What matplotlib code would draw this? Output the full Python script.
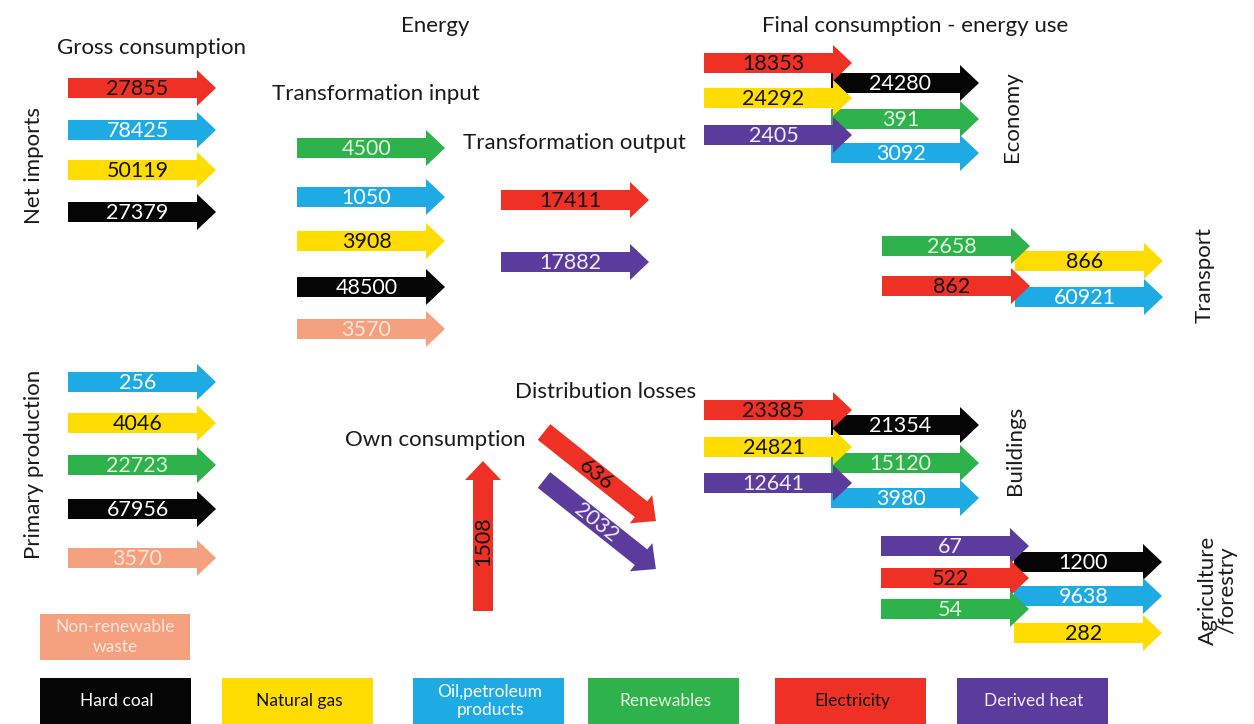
import numpy as np
import matplotlib
matplotlib.use("Agg")
import matplotlib.pyplot as plt
from matplotlib.patches import Polygon, Rectangle

plt.rcParams['font.family'] = ['Lato', 'DejaVu Sans']

# fuel colours (fill, text)
COLORS = {
    "Hard coal": ("#050505", "white"),
    "Natural gas": ("#ffdd00", "#111111"),
    "Oil,petroleum products": ("#1eabe3", "white"),
    "Renewables": ("#2eb24b", "#e4f4df"),
    "Electricity": ("#ee3124", "#111111"),
    "Derived heat": ("#5b3b9c", "#f0ecf8"),
    "Non-renewable waste": ("#f5a07e", "#fde6dc"),
}

# ---- data ----
net_imports_fuels = ["Electricity", "Oil,petroleum products", "Natural gas", "Hard coal"]
net_imports_values = [27855, 78425, 50119, 27379]

primary_fuels = ["Oil,petroleum products", "Natural gas", "Renewables", "Hard coal",
                 "Non-renewable waste"]
primary_values = [256, 4046, 22723, 67956, 3570]

transf_in_fuels = ["Renewables", "Oil,petroleum products", "Natural gas", "Hard coal",
                   "Non-renewable waste"]
transf_in_values = [4500, 1050, 3908, 48500, 3570]

transf_out_fuels = ["Electricity", "Derived heat"]
transf_out_values = [17411, 17882]

economy_in_fuels = ["Electricity", "Natural gas", "Derived heat"]
economy_in_values = [18353, 24292, 2405]
economy_out_fuels = ["Hard coal", "Renewables", "Oil,petroleum products"]
economy_out_values = [24280, 391, 3092]

transport_in_fuels = ["Renewables", "Electricity"]
transport_in_values = [2658, 862]
transport_out_fuels = ["Natural gas", "Oil,petroleum products"]
transport_out_values = [866, 60921]

buildings_in_fuels = ["Electricity", "Natural gas", "Derived heat"]
buildings_in_values = [23385, 24821, 12641]
buildings_out_fuels = ["Hard coal", "Renewables", "Oil,petroleum products"]
buildings_out_values = [21354, 15120, 3980]

agri_in_fuels = ["Derived heat", "Electricity", "Renewables"]
agri_in_values = [67, 522, 54]
agri_out_fuels = ["Hard coal", "Oil,petroleum products", "Natural gas"]
agri_out_values = [1200, 9638, 282]

own_fuel, own_value = "Electricity", 1508
losses_fuels = ["Electricity", "Derived heat"]
losses_values = [636, 2032]

legend_order = ["Hard coal", "Natural gas", "Oil,petroleum products", "Renewables",
                "Electricity", "Derived heat"]

# ---- layout (pixel space) ----
SHAFT, HEAD, HEADLEN = 20, 36, 19
ALEN = 148
NUMSIZE = 15.5
LABSIZE = 16

fig = plt.figure(figsize=(12.54, 7.24), dpi=100)
ax = fig.add_axes([0, 0, 1, 1])
ax.set_xlim(0, 1254)
ax.set_ylim(724, 0)
ax.axis("off")


def arrow(x0, y0, fuel, value, length=ALEN, angle=0.0, z=2):
    # angle in degrees, screen space (positive = clockwise, y down)
    a = np.deg2rad(angle)
    u = np.array([np.cos(a), np.sin(a)])
    n = np.array([-np.sin(a), np.cos(a)])
    L = length
    pts_local = [(0, -SHAFT / 2), (L - HEADLEN, -SHAFT / 2), (L - HEADLEN, -HEAD / 2),
                 (L, 0), (L - HEADLEN, HEAD / 2), (L - HEADLEN, SHAFT / 2), (0, SHAFT / 2)]
    p0 = np.array([x0, y0])
    pts = [p0 + s * u + t * n for s, t in pts_local]
    fc, tc = COLORS[fuel]
    ax.add_patch(Polygon(pts, closed=True, fc=fc, ec="none", zorder=z))
    c = p0 + u * (L - HEADLEN) / 2 + u * 5
    ax.text(c[0], c[1] + 1, str(value), color=tc, fontsize=NUMSIZE, ha="center",
            va="center", rotation=-angle, rotation_mode="anchor", zorder=z + 0.5)


def column(x0, ys, fuels, values, z=2):
    for y, f, v in zip(ys, fuels, values):
        arrow(x0, y, f, v, z=z)


column(68, [88, 130, 170, 212], net_imports_fuels, net_imports_values)
column(68, [382, 423, 465, 509, 558], primary_fuels, primary_values)
column(297, [148, 197, 241, 287, 329], transf_in_fuels, transf_in_values)
column(501, [200, 262], transf_out_fuels, transf_out_values)

# final consumption: right columns drawn first, incoming columns on top
column(831, [83, 119, 153], economy_out_fuels, economy_out_values, z=2)
column(704, [63, 98, 135], economy_in_fuels, economy_in_values, z=3)
column(1015, [261, 297], transport_out_fuels, transport_out_values, z=2)
column(882, [246, 286], transport_in_fuels, transport_in_values, z=3)
column(831, [425, 463, 498], buildings_out_fuels, buildings_out_values, z=2)
column(704, [410, 447, 483], buildings_in_fuels, buildings_in_values, z=3)
column(1014, [562, 596, 633], agri_out_fuels, agri_out_values, z=2)
column(881, [546, 578, 609], agri_in_fuels, agri_in_values, z=3)

# own consumption and distribution losses
arrow(483, 611, own_fuel, own_value, length=150, angle=-90)
for (x, y), f, v in zip([(544, 432), (544, 480)], losses_fuels, losses_values):
    arrow(x, y, f, v, length=143, angle=38.5)

# ---- labels ----
tk = dict(color="#1a1a1a", fontsize=LABSIZE)
ax.text(435, 26, "Energy", ha="center", va="center", **tk)
ax.text(57, 48, "Gross consumption", ha="left", va="center", **tk)
ax.text(272, 94, "Transformation input", ha="left", va="center", **tk)
ax.text(463, 143, "Transformation output", ha="left", va="center", **tk)
ax.text(762, 26, "Final consumption - energy use", ha="left", va="center", **tk)
ax.text(515, 392, "Distribution losses", ha="left", va="center", **tk)
ax.text(345, 440, "Own consumption", ha="left", va="center", **tk)
ax.text(34, 165, "Net imports", ha="center", va="center", rotation=90, **tk)
ax.text(34, 464, "Primary production", ha="center", va="center", rotation=90, **tk)
ax.text(1012, 117, "Economy", ha="center", va="center", rotation=90, **tk)
ax.text(1205, 275, "Transport", ha="center", va="center", rotation=90, **tk)
ax.text(1015, 450, "Buildings", ha="center", va="center", rotation=90, **tk)
ax.text(1218, 590, "Agriculture\n/forestry", ha="center", va="center", rotation=90,
        linespacing=0.95, **tk)

# ---- legend boxes ----
fc, tc = COLORS["Non-renewable waste"]
ax.add_patch(Rectangle((40, 614), 150, 46, fc=fc, ec="none"))
ax.text(115, 637, "Non-renewable\nwaste", color=tc, fontsize=12.5, ha="center",
        va="center", linespacing=1.35)
legend_x = [40, 222, 413, 588, 775, 957]
for x, f in zip(legend_x, legend_order):
    fc, tc = COLORS[f]
    ax.add_patch(Rectangle((x, 678), 151, 46, fc=fc, ec="none"))
    label = "Oil,petroleum\nproducts" if f.startswith("Oil") else f
    ax.text(x + 77, 701, label, color=tc, fontsize=12.5, ha="center", va="center",
            linespacing=1.1)

fig.savefig("out.png", dpi=100)
